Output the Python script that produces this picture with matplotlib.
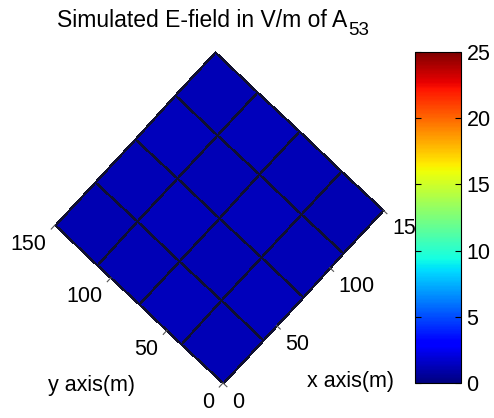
import numpy as np
import matplotlib
matplotlib.use("Agg")
import matplotlib.pyplot as plt
from matplotlib.transforms import Affine2D, offset_copy
from matplotlib.cm import ScalarMappable
from matplotlib.colors import Normalize

plt.rcParams['font.family'] = ['Liberation Sans', 'DejaVu Sans']

# grid of the simulated surface (m)
x_edges = [0, 37.5, 75, 112.5, 150]
y_edges = [0, 37.5, 75, 112.5, 150]
# E-field per cell (V/m), rows = y, cols = x
efield = [[1.2, 1.3, 1.2, 1.1],
          [1.3, 1.2, 1.3, 1.2],
          [1.2, 1.3, 1.2, 1.3],
          [1.1, 1.2, 1.3, 1.2]]
x_ticks = [0, 50, 100, 150]
y_ticks = [0, 50, 100, 150]
cbar_ticks = [0, 5, 10, 15, 20, 25]
vmin, vmax = 0, 25

W, H = 494, 418
fig = plt.figure(figsize=(W / 100, H / 100), dpi=100)
ax = fig.add_axes([0, 0, 1, 1])
ax.set_xlim(0, W)
ax.set_ylim(0, H)
ax.axis('off')

# top-down view of the surface, rotated like the matlab view
view = Affine2D(np.array([[160 / 150, -168 / 150, 223],
                          [173 / 150, 158 / 150, 35],
                          [0, 0, 1]]))
tr = view + ax.transData

mesh = ax.pcolormesh(x_edges, y_edges, np.array(efield), cmap='jet',
                     vmin=vmin, vmax=vmax, edgecolors='#101030',
                     linewidth=0.9, transform=tr)

fs = 15.5
tick_len = 3.5
for t in y_ticks:
    ax.plot([0, -tick_len], [t, t], color='#555555', lw=0.8, transform=tr)
    px, py = view.transform((0, t))
    ax.text(px - 9, py - 19, str(t), ha='right', va='center', fontsize=fs)
for t in x_ticks:
    ax.plot([t, t], [0, -tick_len], color='#555555', lw=0.8, transform=tr)
    px, py = view.transform((t, 0))
    ax.text(px + 9, py - 19, str(t), ha='left', va='center', fontsize=fs)

ax.text(91, H - 385, 'y axis(m)', ha='center', va='center', fontsize=fs)
ax.text(350, H - 381, 'x axis(m)', ha='center', va='center', fontsize=fs)

# title with a large, low subscript like matlab's A_{53}
title = ax.text(57, H - 27, 'Simulated E-field in V/m of A', ha='left',
                va='baseline', fontsize=16.5)
fig.canvas.draw()
bb = title.get_window_extent().transformed(ax.transData.inverted())
ax.text(bb.x1 + 0.5, H - 35, '53', ha='left', va='baseline', fontsize=13.5)

cax = fig.add_axes([415 / W, 35 / H, 46 / W, 331 / H])
cb = fig.colorbar(ScalarMappable(norm=Normalize(vmin, vmax), cmap='jet'),
                  cax=cax, ticks=cbar_ticks)
cb.outline.set_linewidth(0.8)
cax.tick_params(direction='in', left=True, right=True, length=4,
                width=0.8, labelsize=fs, pad=4)

fig.savefig('out.png', dpi=100)
